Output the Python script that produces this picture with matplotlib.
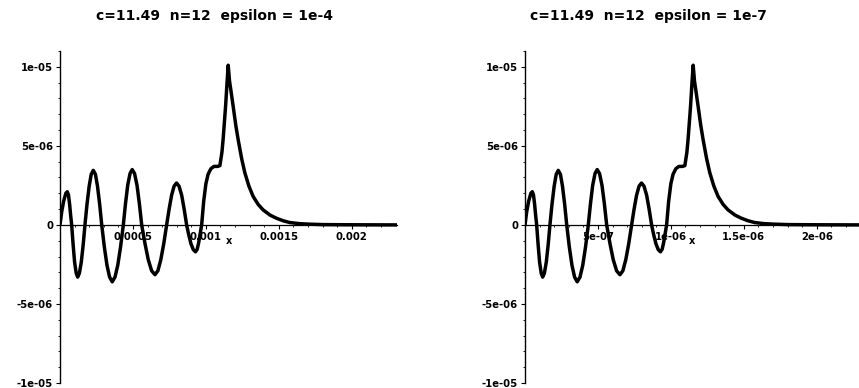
import numpy as np
import matplotlib
matplotlib.use("Agg")
import matplotlib.pyplot as plt
import matplotlib.transforms as mtrans


# =========================
# data
# x in units of the panel scale (1e-3 left, 1e-6 right), y in units of 1e-6
# =========================

curve_x = [
    0.000, 0.012, 0.025, 0.040, 0.050, 0.058, 0.066, 0.073, 0.080,
    0.090, 0.100, 0.111, 0.121, 0.133, 0.146, 0.159, 0.171,
    0.185, 0.200, 0.214, 0.228, 0.243, 0.257, 0.272, 0.286,
    0.304, 0.322, 0.340, 0.358, 0.377, 0.396, 0.415, 0.434,
    0.449, 0.464, 0.480, 0.495, 0.511, 0.528, 0.544, 0.560,
    0.583, 0.605, 0.628, 0.651, 0.671, 0.691, 0.711, 0.731,
    0.748, 0.765, 0.782, 0.799, 0.816, 0.834, 0.851, 0.868,
    0.883, 0.898, 0.914, 0.929, 0.940, 0.950, 0.960, 0.971,
    0.985, 1.000, 1.015, 1.034, 1.055, 1.080, 1.096, 1.110,
    1.118, 1.135, 1.145, 1.153, 1.162, 1.170, 1.187, 1.205,
    1.221, 1.245, 1.267, 1.295, 1.324, 1.358, 1.392, 1.440,
    1.484, 1.530, 1.575, 1.640, 1.700, 1.800, 1.950, 2.310,
]

curve_y = [
    0.00, 0.85, 1.50, 2.00, 2.10, 1.90, 1.30, 0.60, 0.00,
    -1.25, -2.35, -3.05, -3.30, -3.05, -2.35, -1.25, 0.00,
    1.30, 2.45, 3.20, 3.45, 3.20, 2.45, 1.30, 0.00,
    -1.40, -2.55, -3.30, -3.60, -3.30, -2.55, -1.40, 0.00,
    1.35, 2.50, 3.25, 3.50, 3.25, 2.50, 1.35, 0.00,
    -1.20, -2.20, -2.90, -3.15, -2.90, -2.20, -1.20, 0.00,
    1.00, 1.88, 2.45, 2.65, 2.45, 1.88, 1.00, 0.00,
    -0.65, -1.20, -1.57, -1.70, -1.55, -1.15, -0.60, 0.00,
    1.50, 2.60, 3.20, 3.55, 3.70, 3.70, 3.75, 4.60,
    5.40, 7.50, 9.00, 10.10, 9.10, 8.60, 7.50, 6.30,
    5.40, 4.20, 3.30, 2.45, 1.80, 1.30, 0.95, 0.62,
    0.42, 0.26, 0.15, 0.08, 0.05, 0.02, 0.01, 0.00,
]

titles = ["c=11.49  n=12  epsilon = 1e-4", "c=11.49  n=12  epsilon = 1e-7"]
x_units = [1e-3, 1e-6]
x_max = [2.31, 2.29]

x_ticks = [0.5, 1.0, 1.5, 2.0]
x_tick_labels = [
    ["0.0005", "0.001", "0.0015", "0.002"],
    ["5e-07", "1e-06", "1.5e-06", "2e-06"],
]

y_ticks = [-1e-05, -5e-06, 0, 5e-06, 1e-05]
y_tick_labels = ["-1e-05", "-5e-06", "0", "5e-06", "1e-05"]
y_minor = [-9, -8, -7, -6, -4, -3, -2, -1, 1, 2, 3, 4, 6, 7, 8, 9, 10, 11]


# =========================
# figure
# =========================

W, H = 859, 388
fig = plt.figure(figsize=(W / 100, H / 100), dpi=100)

panel_left = [60, 525]
panel_right = [397, 859]
ax_top, ax_bottom = 51, 383

bold = dict(family="DejaVu Sans", weight="bold")

for i in range(2):
    ax = fig.add_axes([
        panel_left[i] / W,
        (H - ax_bottom) / H,
        (panel_right[i] - panel_left[i]) / W,
        (ax_bottom - ax_top) / H,
    ])
    ax.patch.set_alpha(0)

    xs = np.array(curve_x) * x_units[i]
    ys = np.array(curve_y) * 1e-6
    ax.plot(xs, ys, color="black", lw=2.5, solid_joinstyle="round",
            solid_capstyle="round")

    ax.set_xlim(0, x_max[i] * x_units[i])
    ax.set_ylim(-1.0e-05, 1.10e-05)

    for s in ["top", "right"]:
        ax.spines[s].set_visible(False)
    ax.spines["left"].set_position(("data", 0))
    ax.spines["bottom"].set_position(("data", 0))
    ax.spines["left"].set_linewidth(1.0)
    ax.spines["bottom"].set_linewidth(0.9)

    ax.set_xticks([t * x_units[i] for t in x_ticks])
    ax.set_xticklabels(x_tick_labels[i], fontsize=7.3, **bold)
    ax.set_xticks([k * 0.1 * x_units[i] for k in range(1, 23)], minor=True)

    ax.set_yticks(y_ticks)
    ax.set_yticklabels(y_tick_labels, fontsize=7.3, **bold)
    ax.set_yticks([v * 1e-6 for v in y_minor], minor=True)

    ax.tick_params(axis="both", which="major", length=3, width=0.8,
                   direction="out", pad=2)
    ax.tick_params(axis="both", which="minor", length=1.5, width=0.6,
                   direction="out")

    trans = mtrans.blended_transform_factory(ax.transAxes, ax.transData)
    ax.text(0.5, -1.0e-06, "x", transform=trans, ha="center", va="center",
            fontsize=7, **bold)

title_x = [215, 648]
for i in range(2):
    fig.text(title_x[i] / W, 1 - 16 / H, titles[i], ha="center",
             va="center", fontsize=10, **bold)

plt.savefig("out.png", dpi=100)
